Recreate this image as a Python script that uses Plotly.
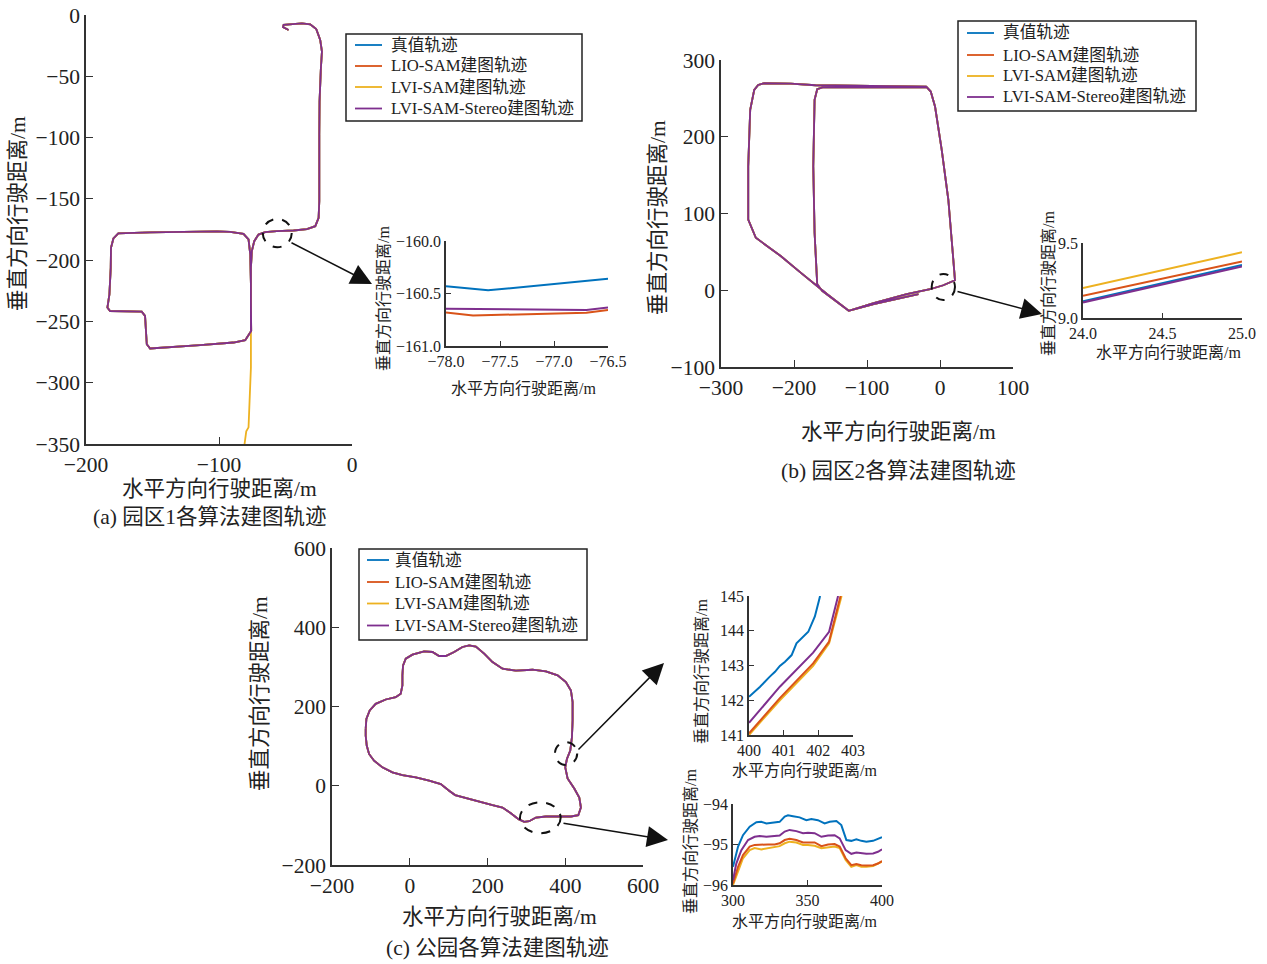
import plotly.graph_objects as go

W, H = 1267, 964
FONT = "Liberation Serif, Noto Sans CJK SC, serif"
AX = "#333333"

names = ["真值轨迹", "LIO-SAM建图轨迹", "LVI-SAM建图轨迹", "LVI-SAM-Stereo建图轨迹"]
colors = ["#0072BD", "#D95319", "#EDB120", "#7E2F8E"]

# ---------------- panel (a) : park 1 ----------------
a_x = [-47.7, -51.9, -51.4, -44.0, -37.7, -31.4, -26.9, -23.9, -22.6, -23.4, -24.4, -24.6, -24.4, -24.6,
       -25.1, -27.6, -33.9, -43.9, -56.5, -65.3, -70.3, -73.5, -75.3, -76.0, -76.0, -75.8,
       -80.3, -89.1, -114.2, -139.3, -151.8, -154.3, -155.1, -155.6, -158.1, -169.4, -181.9, -183.9,
       -182.4, -181.4, -181.2, -179.4, -175.7, -151.8, -126.7, -101.6, -91.6, -81.6, -77.8, -76.5, -76.0, -76.0]
a_y = [-12.2, -9.8, -8.1, -7.1, -6.8, -7.6, -11.4, -20.3, -29.8, -43.4, -70.5, -97.7, -124.8, -151.9,
       -165.5, -172.3, -174.7, -175.8, -176.3, -177.2, -179.1, -184.5, -192.6, -206.2, -233.3, -257.7,
       -265.3, -267.2, -269.4, -271.3, -272.1, -268.6, -257.7, -245.5, -242.0, -241.5, -241.5, -238.7,
       -227.9, -206.2, -189.9, -182.3, -178.2, -177.4, -176.9, -176.6, -176.9, -178.5, -183.1, -195.3, -219.8, -257.7]
# LVI-SAM drift tail in (a)
a_lvi_tail_x = [-76.0, -76.5, -76.0, -77.0, -77.8, -79.5, -80.8]
a_lvi_tail_y = [-257.7, -274.0, -287.6, -314.7, -336.4, -339.7, -350.0]

# inset (a)
ai_true_x = [-78.0, -77.61, -76.5]
ai_true_y = [-160.43, -160.47, -160.36]
ai_lio_x = [-78.0, -77.75, -76.70, -76.5]
ai_lio_y = [-160.68, -160.709, -160.684, -160.658]
ai_ste_x = [-78.0, -76.70, -76.5]
ai_ste_y = [-160.645, -160.658, -160.633]

# ---------------- panel (b) : park 2 ----------------
b_x = [-29.5, -90.9, -125.0, -161.4, -168.2, -171.8, -173.6, -171.8, -168.2, -160.0, -90.9, -18.2, -12.7,
       -6.8, 2.3, 11.4, 18.2, 20.5, 4.5, -13.6, -45.5, -90.9, -125.0, -154.5, -190.9, -218.2, -252.3,
       -262.7, -262.7, -260.0, -254.5, -249.1, -240.9, -204.5, -170.5, -90.9, -18.2]
b_y = [-5.2, -18.2, -26.8, -0.9, 7.8, 74.9, 161.5, 248.1, 261.9, 264.5, 264.5, 264.5, 258.9,
       239.4, 183.1, 118.2, 40.3, 13.0, 6.5, 1.3, -5.2, -16.9, -26.8, -5.2, 22.9, 44.6, 68.4,
       92.2, 161.5, 235.1, 261.0, 267.5, 269.7, 269.3, 267.1, 266.2, 265.4]

# inset (b)
bi_x = [24.0, 25.0]
bi_true_y = [9.111, 9.353]
bi_lio_y = [9.149, 9.376]
bi_lvi_y = [9.200, 9.438]
bi_ste_y = [9.104, 9.344]

# ---------------- panel (c) : park ----------------
c_x = [-113.3, -111.6, -103.0, -87.6, -61.8, -36.1, -23.2, -18.9, -18.9, -17.2, -10.3, 6.9, 36.9, 58.4,
       75.5, 92.7, 114.2, 135.6, 152.8, 170.0, 191.4, 212.9, 238.6, 273.0, 315.9, 350.2, 380.3, 401.7,
       414.6, 418.9, 418.9, 417.2, 412.9, 404.3, 400.0, 406.0, 423.2, 436.1, 440.3, 433.5, 414.6, 384.5,
       350.2, 324.5, 307.3, 294.4, 279.8, 260.1, 238.6, 212.9, 178.5, 144.2, 116.7, 101.3, 79.8, 49.8,
       15.5, -18.9, -44.6, -70.4, -91.8, -104.7, -110.7, -113.3, -113.3]
c_y = [143.5, 168.8, 189.9, 206.8, 217.7, 223.6, 232.1, 253.2, 278.5, 303.8, 320.7, 330.8, 339.2, 337.6,
       327.4, 327.4, 337.6, 350.2, 354.4, 351.1, 333.3, 312.2, 295.4, 290.3, 292.8, 288.6, 278.5, 261.6,
       240.5, 211.0, 164.6, 122.4, 88.6, 67.5, 46.4, 18.6, -6.8, -29.5, -54.9, -74.3, -77.6, -77.6,
       -77.6, -80.2, -89.5, -91.1, -84.4, -69.2, -54.9, -48.9, -40.5, -32.1, -23.6, -12.7, 4.2, 12.7,
       21.1, 27.0, 33.8, 46.4, 63.3, 80.2, 101.3, 126.6, 143.5]

# inset (c) top
ct_true_x = [400.0, 400.32, 400.60, 400.75, 400.89, 401.04, 401.23, 401.37, 401.71, 401.90, 402.02, 402.05]
ct_true_y = [142.10, 142.39, 142.68, 142.82, 142.99, 143.11, 143.30, 143.64, 143.97, 144.41, 144.88, 145.0]
ct_lio_x = [400.0, 400.89, 401.85, 402.31, 402.64]
ct_lio_y = [141.05, 142.06, 143.06, 143.69, 145.0]
ct_lvi_x = [400.0, 400.89, 401.85, 402.31, 402.67]
ct_lvi_y = [141.0, 142.0, 142.99, 143.64, 145.0]
ct_ste_x = [400.0, 400.89, 401.85, 402.31, 402.57]
ct_ste_y = [141.35, 142.39, 143.37, 143.97, 145.0]

# inset (c) bottom
cb_true_x = [300, 303.4, 306.7, 311.2, 315.7, 319.0, 322.4, 326.8, 331.3, 334.7, 336.9, 340.3, 344.7, 349.2,
             352.6, 357.0, 361.5, 364.9, 369.4, 372.7, 376.1, 379.4, 382.8, 386.1, 389.5, 394.0, 397.3, 400]
cb_true_y = [-95.55, -95.05, -94.77, -94.56, -94.45, -94.44, -94.48, -94.46, -94.44, -94.31, -94.28, -94.30,
             -94.33, -94.40, -94.37, -94.40, -94.48, -94.44, -94.42, -94.52, -94.89, -94.91, -94.87, -94.91,
             -94.93, -94.91, -94.87, -94.82]
cb_x = [300, 303.4, 306.7, 311.2, 314.5, 319.0, 323.5, 328.0, 331.3, 334.7, 338.0, 342.5, 347.0, 350.3,
        354.8, 359.3, 363.8, 368.2, 371.6, 375.6, 379.4, 382.8, 386.1, 389.5, 394.0, 397.3, 400]
cb_lio_y = [-95.96, -95.55, -95.26, -95.05, -95.01, -95.00, -95.00, -95.00, -94.97, -94.89, -94.86, -94.89,
            -94.95, -94.95, -94.95, -95.04, -95.00, -94.99, -95.05, -95.34, -95.51, -95.48, -95.51, -95.52,
            -95.51, -95.47, -95.41]
cb_lvi_y = [-96.0, -95.67, -95.34, -95.14, -95.09, -95.12, -95.09, -95.05, -95.04, -94.97, -94.93, -94.95,
            -95.01, -95.01, -95.03, -95.09, -95.07, -95.05, -95.09, -95.38, -95.55, -95.51, -95.55, -95.55,
            -95.53, -95.48, -95.42]
cb_ste_x = [300, 302.2, 305.6, 310.1, 314.5, 317.9, 322.4, 328.0, 331.3, 334.7, 338.0, 342.5, 347.0, 350.3,
            354.8, 359.3, 363.8, 368.2, 371.6, 375.6, 379.4, 382.8, 386.1, 389.5, 394.0, 397.3, 400]
cb_ste_y = [-95.88, -95.47, -95.14, -94.89, -94.81, -94.79, -94.81, -94.79, -94.78, -94.68, -94.64, -94.67,
            -94.72, -94.71, -94.72, -94.81, -94.78, -94.77, -94.85, -95.14, -95.23, -95.20, -95.22, -95.23,
            -95.22, -95.18, -95.12]


def px(x):
    return x / W


def py(y):
    return 1 - y / H


fig = go.Figure()


def add(xs, ys, color, ax, width=1.8):
    fig.add_trace(go.Scatter(x=xs, y=ys, mode="lines", line=dict(color=color, width=width),
                             xaxis="x" + ax, yaxis="y" + ax, showlegend=False, hoverinfo="skip"))


# (a) main: truth, LIO, LVI (with drift tail), Stereo
add(a_x, a_y, colors[0], "")
add(a_x, a_y, colors[1], "")
add(a_x + a_lvi_tail_x, a_y + a_lvi_tail_y, colors[2], "")
add(a_x, a_y, colors[3], "")
# (a) inset
add(ai_true_x, ai_true_y, colors[0], "2", 2)
add(ai_lio_x, ai_lio_y, colors[1], "2", 2)
add(ai_ste_x, ai_ste_y, colors[3], "2", 2)
# (b) main
for c in colors:
    add(b_x, b_y, c, "3")
# (b) inset
add(bi_x, bi_true_y, colors[0], "4", 2)
add(bi_x, bi_lio_y, colors[1], "4", 2)
add(bi_x, bi_lvi_y, colors[2], "4", 2)
add(bi_x, bi_ste_y, colors[3], "4", 2)
# (c) main
for c in colors:
    add(c_x, c_y, c, "5")
# (c) inset top
add(ct_true_x, ct_true_y, colors[0], "6", 2)
add(ct_lvi_x, ct_lvi_y, colors[2], "6", 2)
add(ct_lio_x, ct_lio_y, colors[1], "6", 2)
add(ct_ste_x, ct_ste_y, colors[3], "6", 2)
# (c) inset bottom
add(cb_true_x, cb_true_y, colors[0], "7", 2)
add(cb_x, cb_lvi_y, colors[2], "7", 2)
add(cb_x, cb_lio_y, colors[1], "7", 2)
add(cb_ste_x, cb_ste_y, colors[3], "7", 2)


def axis(l, r, rng, tickvals, fs, fmt=None, ticklen=7, anchor=None):
    d = dict(domain=[px(l), px(r)], range=rng, tickvals=tickvals, showgrid=False, zeroline=False,
             showline=True, linecolor=AX, linewidth=1.6, ticks="inside", ticklen=ticklen, tickwidth=1.4,
             tickcolor=AX, tickfont=dict(family=FONT, size=fs, color="#222"), fixedrange=True,
             automargin=False)
    if fmt:
        d["tickformat"] = fmt
    if anchor:
        d["anchor"] = anchor
    return d


def yaxis(t, b, rng, tickvals, fs, fmt=None, ticklen=7, anchor=None):
    d = axis(0, 1, rng, tickvals, fs, fmt, ticklen, anchor)
    d["domain"] = [py(b), py(t)]
    return d


layout = dict(
    width=W, height=H, autosize=False, margin=dict(l=0, r=0, t=0, b=0, pad=0, autoexpand=False),
    paper_bgcolor="white", plot_bgcolor="white", showlegend=False,
    font=dict(family=FONT, color="#222"),
    xaxis=axis(86, 352, [-200, 0], [-200, -100, 0], 21.5, anchor="y"),
    yaxis=yaxis(15, 444, [-350, 0], [-350, -300, -250, -200, -150, -100, -50, 0], 21.5, anchor="x"),
    xaxis2=axis(446, 608, [-78, -76.5], [-78, -77.5, -77, -76.5], 16, ".1f", 5, anchor="y2"),
    yaxis2=yaxis(241, 346, [-161, -160], [-161, -160.5, -160], 16, ".1f", 5, anchor="x2"),
    xaxis3=axis(721, 1013, [-300, 100], [-300, -200, -100, 0, 100], 21.5, anchor="y3"),
    yaxis3=yaxis(60, 367, [-100, 300], [-100, 0, 100, 200, 300], 21.5, anchor="x3"),
    xaxis4=axis(1083, 1242, [24, 25], [24, 24.5, 25], 16, ".1f", 5, anchor="y4"),
    yaxis4=yaxis(243, 318, [9.0, 9.5], [9.0, 9.5], 16, ".1f", 5, anchor="x4"),
    xaxis5=axis(332, 643, [-200, 600], [-200, 0, 200, 400, 600], 21.5, anchor="y5"),
    yaxis5=yaxis(548, 865, [-200, 600], [-200, 0, 200, 400, 600], 21.5, anchor="x5"),
    xaxis6=axis(749, 853, [400, 403], [400, 401, 402, 403], 16, None, 5, anchor="y6"),
    yaxis6=yaxis(596, 735, [141, 145], [141, 142, 143, 144, 145], 16, None, 5, anchor="x6"),
    xaxis7=axis(733, 882, [300, 400], [300, 350, 400], 16, None, 5, anchor="y7"),
    yaxis7=yaxis(804, 885, [-96, -94], [-96, -95, -94], 16, None, 5, anchor="x7"),
)
fig.update_layout(**layout)

ann = []
shapes = []


def text(x, y, s, size, angle=0, xanchor="center"):
    ann.append(dict(x=px(x), y=py(y), xref="paper", yref="paper", text=s, showarrow=False,
                    textangle=angle, xanchor=xanchor, yanchor="middle",
                    font=dict(family=FONT, size=size, color="#222")))


XT = "水平方向行驶距离/m"
YT = "垂直方向行驶距离/m"
# main axis titles and captions
text(219, 489, XT, 21.5)
text(18, 214, YT, 21.5, -90)
text(210, 517, "(a) 园区1各算法建图轨迹", 21.5)
text(899, 432, XT, 21.5)
text(658, 218, YT, 21.5, -90)
text(899, 471, "(b) 园区2各算法建图轨迹", 21.5)
text(500, 917, XT, 21.5)
text(260, 694, YT, 21.5, -90)
text(497, 948, "(c) 公园各算法建图轨迹", 21.5)
# inset titles
text(523, 388, XT, 16)
text(383, 299, YT, 16, -90)
text(1168, 352, XT, 16)
text(1048, 284, YT, 16, -90)
text(804, 770, XT, 16)
text(701, 671, YT, 16, -90)
text(804, 921, XT, 16)
text(690, 842, YT, 16, -90)

# legends (box, sample lines, labels)
def legend(l, r, t, b, rows, lx0, lx1, tx):
    shapes.append(dict(type="rect", xref="paper", yref="paper", x0=px(l), x1=px(r), y0=py(b), y1=py(t),
                       line=dict(color="#222", width=1.5), fillcolor="white", layer="above"))
    for yy, nm, c in zip(rows, names, colors):
        shapes.append(dict(type="line", xref="paper", yref="paper", x0=px(lx0), x1=px(lx1), y0=py(yy),
                           y1=py(yy), line=dict(color=c, width=1.8), layer="above"))
        text(tx, yy, nm, 16.7, xanchor="left")


legend(346, 582, 34, 121, [45, 66, 87, 108.5], 355, 382, 389)
legend(958, 1196, 21, 111, [33, 55, 76, 97], 967, 994, 1001)
legend(359, 587, 549, 640, [560, 582, 603.5, 625.5], 367, 389, 393)

# dashed circles (data coordinates)
circ = [("x", "y", -67.1, -45.3, -166.4, -189.5),
        ("x3", "y3", -11.4, 20.5, 21.2, -12.8),
        ("x5", "y5", 373.5, 430.8, 109.9, 52.4),
        ("x5", "y5", 283.5, 388.2, -42.0, -119.7)]
for xr, yr, x0, x1, y0, y1 in circ:
    shapes.append(dict(type="circle", xref=xr, yref=yr, x0=x0, x1=x1, y0=y0, y1=y1,
                       line=dict(color="#111", width=2, dash="dash")))

# arrows (tail -> tip, pixel positions)
arrows = [((290, 242), (372, 284)), ((956, 291), (1042, 314)),
          ((577, 751), (664, 663)), ((562, 823), (668, 840))]
for (tx_, ty_), (hx, hy) in arrows:
    ann.append(dict(x=px(hx), y=py(hy), xref="paper", yref="paper", ax=tx_ - hx, ay=ty_ - hy,
                    text="", showarrow=True, arrowhead=2, arrowsize=2.8, arrowwidth=1.5,
                    arrowcolor="#111", standoff=0, startstandoff=0))

fig.update_layout(annotations=ann, shapes=shapes)
fig.write_html("out.html")
